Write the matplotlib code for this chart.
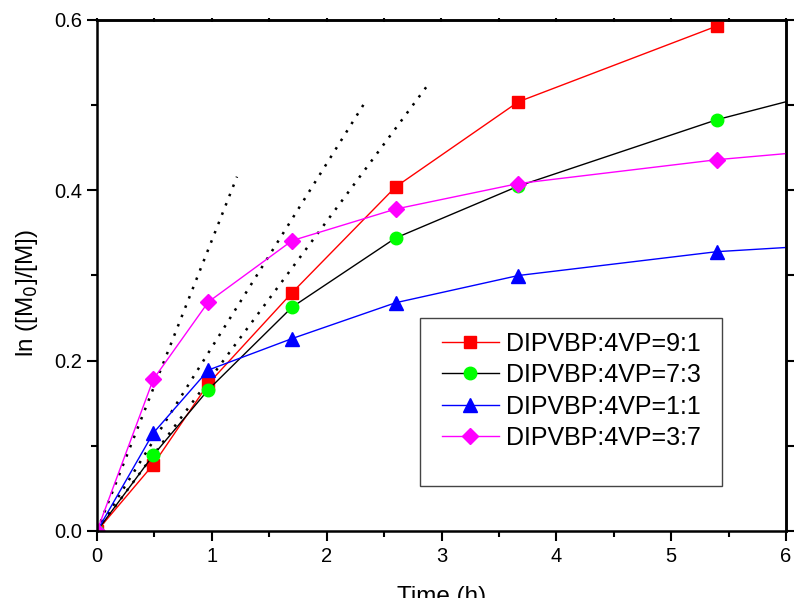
import matplotlib
matplotlib.use("Agg")
import matplotlib.pyplot as plt
from matplotlib.ticker import MultipleLocator, FormatStrFormatter
from matplotlib.patches import Rectangle

plt.rcParams['font.family'] = ['Liberation Sans', 'DejaVu Sans']

# sampling times (h); the last point lies past the x range and is clipped
time = [0, 0.49, 0.97, 1.70, 2.60, 3.67, 5.40]
time_ext = time + [7.0]

r91 = [0, 0.078, 0.173, 0.280, 0.404, 0.504, 0.593]
r73 = [0, 0.089, 0.166, 0.263, 0.344, 0.405, 0.483, 0.539]
r11 = [0, 0.115, 0.189, 0.226, 0.268, 0.300, 0.328, 0.341]
r37 = [0, 0.178, 0.269, 0.341, 0.378, 0.408, 0.436, 0.455]

labels = ['DIPVBP:4VP=9:1', 'DIPVBP:4VP=7:3', 'DIPVBP:4VP=1:1', 'DIPVBP:4VP=3:7']

# initial-rate lines through the origin (end points)
fit_t = [1.219, 2.346, 2.866]
fit_y = [0.416, 0.506, 0.521]

fig = plt.figure(figsize=(7.95, 5.98), dpi=100)
ax = fig.add_axes([97/795, 1 - 531/598, 689/795, 511/598])

for xe, ye in zip(fit_t, fit_y):
    ax.plot([0, xe], [0, ye], color='black', lw=1.8, linestyle=(0, (1, 3)))

ax.plot(time, r91, color='red', lw=1, marker='s', ms=8, mfc='red', mec='red', label=labels[0])
ax.plot(time_ext, r73, color='black', lw=1, marker='o', ms=9, mfc='#00ff00', mec='#00ff00', label=labels[1])
ax.plot(time_ext, r11, color='blue', lw=1, marker='^', ms=10, mfc='blue', mec='blue', label=labels[2])
ax.plot(time_ext, r37, color='magenta', lw=1, marker='D', ms=8.5, mfc='magenta', mec='magenta', label=labels[3])

ax.set_xlim(0, 6)
ax.set_ylim(0, 0.6)
ax.xaxis.set_major_locator(MultipleLocator(1))
ax.xaxis.set_minor_locator(MultipleLocator(0.5))
ax.yaxis.set_major_locator(MultipleLocator(0.2))
ax.yaxis.set_minor_locator(MultipleLocator(0.1))
ax.yaxis.set_major_formatter(FormatStrFormatter('%.1f'))

for s in ax.spines.values():
    s.set_linewidth(1.8)
ax.tick_params(which='major', direction='out', length=7.2, width=1.5, labelsize=14.5, pad=4)
ax.tick_params(which='minor', direction='out', length=4.3, width=1.5)
ax.tick_params(axis='y', pad=3.5)

top = ax.secondary_xaxis('top')
top.xaxis.set_major_locator(MultipleLocator(1))
top.xaxis.set_minor_locator(MultipleLocator(0.5))
top.tick_params(which='both', direction='inout', length=2.5, width=1.5, labeltop=False)
top.spines['top'].set_linewidth(1.8)

right = ax.secondary_yaxis('right')
right.yaxis.set_major_locator(MultipleLocator(0.2))
right.yaxis.set_minor_locator(MultipleLocator(0.1))
right.tick_params(which='both', direction='out', length=6, width=1.5, labelright=False)
right.spines['right'].set_linewidth(1.8)

ax.set_xlabel('Time (h)', fontsize=17.5)
ax.set_ylabel('ln ([M$_0$]/[M])', fontsize=17.5)
ax.xaxis.set_label_coords(0.5, -0.108)
ax.yaxis.set_label_coords(-0.083, 0.465)

# legend with an Origin-style oversized frame
ax.add_patch(Rectangle((0.469, 0.088), 0.438, 0.329, transform=ax.transAxes,
                       fill=True, facecolor='white', edgecolor='#444444', lw=1, zorder=4))
leg = ax.legend(loc='upper left', bbox_to_anchor=(0.5, 0.39), frameon=False,
                fontsize=18, handlelength=2.3, handletextpad=0.3, labelspacing=0.3,
                borderpad=0, borderaxespad=0)
leg.set_zorder(5)

fig.savefig('out.png', dpi=100)
